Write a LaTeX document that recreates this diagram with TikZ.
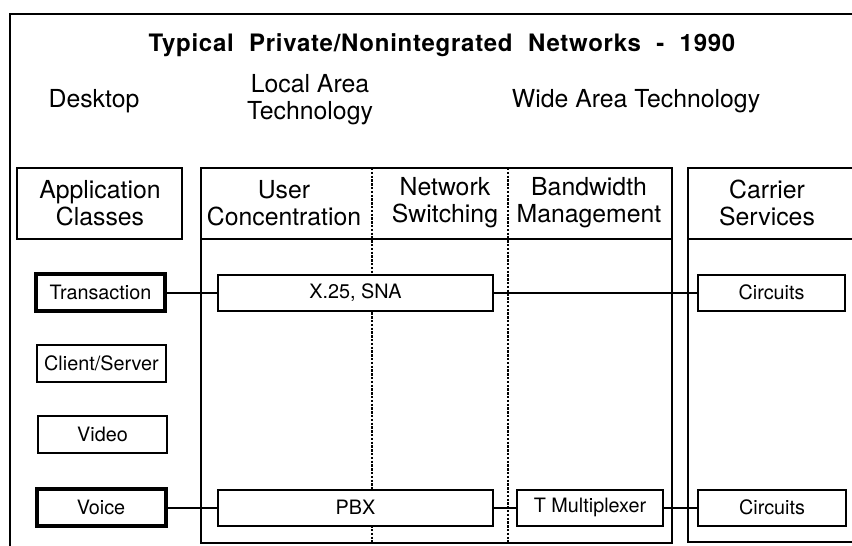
\documentclass[tikz,border=0pt]{standalone}
\usepackage{fontspec}
\setmainfont{TeX Gyre Heros}
\begin{document}
\begin{tikzpicture}[x=0.5pt,y=-0.5pt,
  frame/.style={line width=1pt},
  hdr/.style={font=\fontsize{12.4}{13.5}\selectfont, align=center, inner sep=0pt},
  cls/.style={draw, line width=1pt, font=\fontsize{9.9}{11}\selectfont, inner sep=0pt, minimum width=64.5pt, minimum height=18.5pt},
  clsthick/.style={cls, line width=2pt},
  tech/.style={draw, line width=1pt, fill=white, font=\fontsize{9.9}{11}\selectfont, inner sep=0pt, minimum height=18pt},
  link/.style={line width=1pt},
  sep/.style={line width=1.2pt, dash pattern=on 1.2pt off 0.7pt}]
\useasboundingbox (0,0) rectangle (852,546);
% outer frame
\draw[frame] (852,14) -- (10,14) -- (10,546);
% title and column headings
\node[inner sep=0pt, font=\fontsize{12}{14}\selectfont\bfseries\addfontfeatures{LetterSpace=3}] (title) at (442,45)
  {Typical\hspace{4pt} Private/Nonintegrated\hspace{4pt} Networks\hspace{4pt} -\hspace{4pt} 1990};
\node[hdr] (desk) at (94,101) {Desktop};
\node[hdr] (lat) at (310,100) {Local Area\\Technology};
\node[hdr] (wat) at (636,101) {Wide Area Technology};
% column boxes
\draw[frame] (17,168) rectangle (182,239);
\node[hdr] (appc) at (100,203) {Application\\Classes};
\draw[frame] (201,168) rectangle (672,543);
\draw[frame] (201,239) -- (672,239);
\draw[frame] (852,168) -- (688,168) -- (688,542) -- (852,542);
\draw[frame] (688,239) -- (852,239);
\draw[sep] (372,168) -- (372,543);
\draw[sep] (508,168) -- (508,543);
\node[hdr] (user) at (284,203) {User\\Concentration};
\node[hdr] (nsw) at (445,203) {Network\\Switching};
\node[hdr] (bwm) at (589,203) {Bandwidth\\Management};
\node[hdr] (cars) at (767,203) {Carrier\\Services};
% application classes
\node[clsthick] (trans) at (100.5,292.5) {Transaction};
\node[cls] (cs) at (101.5,363.5) {Client/Server};
\node[cls] (video) at (102.5,434) {Video};
\node[clsthick] (voice) at (101,507.5) {Voice};
% technologies
\node[tech, minimum width=137.5pt] (x25) at (355.5,292.5) {X.25, SNA};
\node[tech, minimum width=137.5pt] (pbx) at (355.5,507.5) {PBX};
\node[tech, minimum width=73pt] (tmux) at (590,507.5) {T Multiplexer};
\node[tech, minimum width=73.5pt] (circ1) at (771.5,292.5) {Circuits};
\node[tech, minimum width=74pt] (circ2) at (772,507.5) {Circuits};
% connectors
\draw[link] (trans.east) -- (x25.west);
\draw[link] (x25.east) -- (circ1.west);
\draw[link] (voice.east) -- (pbx.west);
\draw[link] (pbx.east) -- (tmux.west);
\draw[link] (tmux.east) -- (circ2.west);
\end{tikzpicture}
\end{document}
